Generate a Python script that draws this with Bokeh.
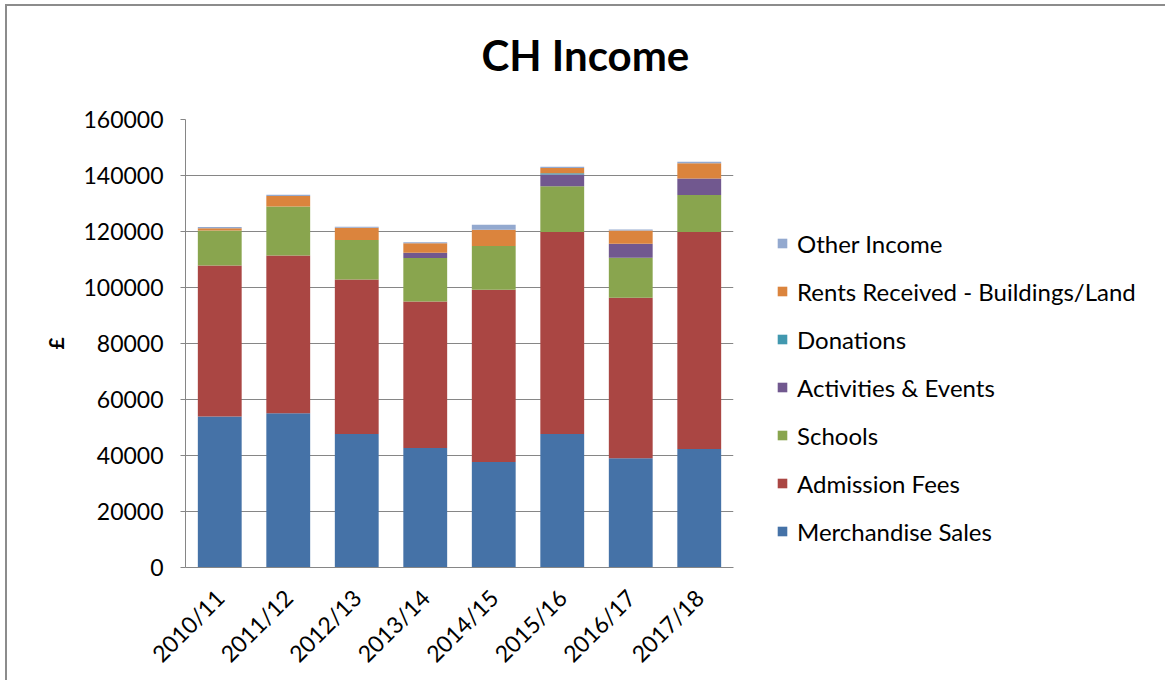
import math
from bokeh.plotting import figure
from bokeh.models import Legend, LegendItem, Title, Range1d, FixedTicker
from bokeh.embed import file_html
from bokeh.resources import INLINE

years = ["2010/11", "2011/12", "2012/13", "2013/14", "2014/15", "2015/16", "2016/17", "2017/18"]
merchandise = [53900, 55100, 47700, 42700, 37700, 47700, 39000, 42300]
admission = [54000, 56300, 55200, 52300, 61500, 72100, 57300, 77500]
schools = [12500, 17500, 14100, 15500, 15600, 16400, 14300, 13200]
activities = [0, 0, 0, 1900, 0, 4200, 5000, 5900]
donations = [0, 0, 0, 0, 0, 400, 0, 0]
rents = [800, 3800, 4300, 3400, 5800, 1900, 4800, 5500]
other = [400, 400, 400, 400, 1800, 400, 300, 500]

series_names = ["Merchandise Sales", "Admission Fees", "Schools", "Activities & Events",
                "Donations", "Rents Received - Buildings/Land", "Other Income"]
series_values = [merchandise, admission, schools, activities, donations, rents, other]
colors = ["#4572A7", "#AA4643", "#89A54E", "#71588F", "#4198AF", "#DB843D", "#93A9CF"]
y_ticks = [0, 20000, 40000, 60000, 80000, 100000, 120000, 140000, 160000]

FONT = "Lato"

data = {"year": years}
keys = []
for i, vals in enumerate(series_values):
    k = f"s{i}"
    keys.append(k)
    data[k] = vals

p = figure(x_range=years, y_range=Range1d(0, 160000),
           frame_width=548, frame_height=448,
           min_border_left=178, min_border_right=420,
           min_border_top=113, min_border_bottom=110,
           output_backend="svg", toolbar_location=None, tools="")
p.styles = {"border-left": "2px solid #8c8c8c", "border-top": "2px solid #8c8c8c",
            "margin-left": "5px", "margin-top": "4px"}

renderers = p.vbar_stack(keys, x="year", width=0.64, color=colors, source=data,
                         line_color=None)

p.outline_line_color = None
p.xgrid.grid_line_color = None
p.ygrid.grid_line_color = "#868686"
p.ygrid.grid_line_width = 1

p.yaxis.ticker = FixedTicker(ticks=y_ticks)
p.yaxis.formatter.use_scientific = False
p.yaxis.major_label_text_font = FONT
p.yaxis.major_label_text_font_size = "23px"
p.yaxis.major_label_text_color = "#000000"
p.yaxis.axis_line_color = "#868686"
p.yaxis.major_tick_line_color = "#868686"
p.yaxis.major_tick_out = 5
p.yaxis.major_tick_in = 0
p.yaxis.minor_tick_line_color = None
p.yaxis.major_label_standoff = 17
p.yaxis.axis_label = "£"
p.yaxis.axis_label_text_font = FONT
p.yaxis.axis_label_text_font_size = "21px"
p.yaxis.axis_label_text_font_style = "bold"
p.yaxis.axis_label_text_color = "#000000"
p.yaxis.axis_label_standoff = 12

p.xaxis.axis_line_color = "#868686"
p.xaxis.major_tick_line_color = None
p.xaxis.minor_tick_line_color = None
p.xaxis.major_label_orientation = math.pi / 4
p.xaxis.major_label_text_font = FONT
p.xaxis.major_label_text_font_size = "23px"
p.xaxis.major_label_text_color = "#000000"
p.xaxis.major_label_standoff = 20

items = [LegendItem(label=series_names[i], renderers=[renderers[i]]) for i in reversed(range(len(series_names)))]
legend = Legend(items=items, location=(43, 21),
                glyph_width=12, glyph_height=12, label_standoff=9,
                label_text_font=FONT, label_text_font_size="24px",
                label_text_color="#000000", label_height=30,
                spacing=18, padding=0, margin=0,
                border_line_color=None, background_fill_alpha=0)
p.add_layout(legend, "right")

# spacer between frame and title
spacer = Title(text=" ", standoff=32, text_font_size="1px")
p.add_layout(spacer, "above")

title = Title(text="CH Income", align="left", offset=296, standoff=10,
              text_font=FONT, text_font_size="42px", text_font_style="bold",
              text_color="#000000")
p.add_layout(title, "above")

open("out.html", "w").write(file_html(p, INLINE))
